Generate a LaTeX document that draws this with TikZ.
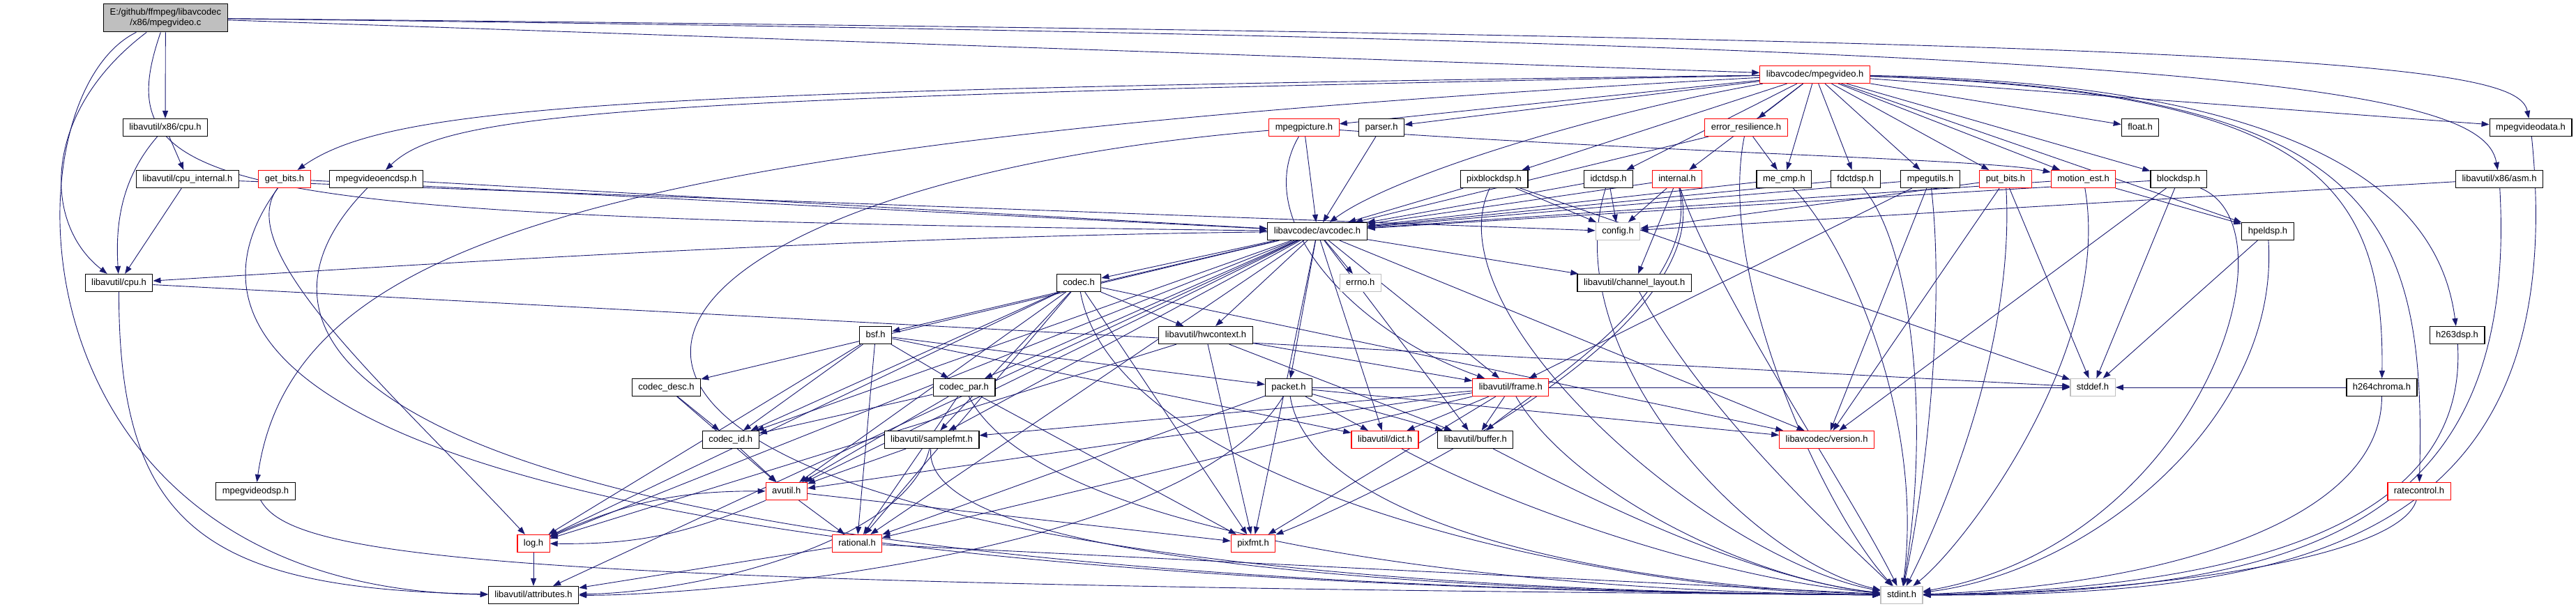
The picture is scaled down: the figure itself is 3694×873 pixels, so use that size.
\documentclass[tikz,border=0pt]{standalone}
\usepackage{fontspec}
\setmainfont{Liberation Sans}
\usetikzlibrary{arrows.meta,backgrounds}
\definecolor{edgeblue}{RGB}{25,25,112}
\definecolor{boxgray}{RGB}{191,191,191}

\begin{document}
\begin{tikzpicture}[x=1pt, y=-1pt,
    box/.style={draw=black, line width=1.2pt, fill=white, inner xsep=9pt, inner ysep=0pt,
        minimum height=25pt, font=\fontsize{13}{15}\selectfont},
    hdr/.style={box, text height=9.5pt, text depth=2.5pt},
    trunc/.style={hdr, draw=red},
    sys/.style={hdr, draw=boxgray},
    dep/.style={draw=edgeblue, line width=0.9pt, -{Triangle[length=11pt,width=8pt]}}]

    \useasboundingbox (0,0) rectangle (3694,873);

    % =========================================================================
    % Headers, one rank per row
    % =========================================================================
    \node[box, fill=boxgray, align=center, minimum height=40pt] (root) at (237.4,25.8) {E:/github/ffmpeg/libavcodec\\/x86/mpegvideo.c};
    \node[trunc] (mpv) at (2602.6,107) {libavcodec/mpegvideo.h};

    \node[hdr] (xcpu) at (237,183) {libavutil/x86/cpu.h};
    \node[trunc] (mpic) at (1870,183) {mpegpicture.h};
    \node[hdr] (parser) at (1981,183) {parser.h};
    \node[trunc] (er) at (2504,183) {error\_resilience.h};
    \node[hdr] (float) at (3069,183) {float.h};
    \node[hdr] (mvdata) at (3629,183) {mpegvideodata.h};

    \node[hdr] (cpuint) at (269,257) {libavutil/cpu\_internal.h};
    \node[trunc] (getbits) at (408,257) {get\_bits.h};
    \node[hdr] (mvenc) at (539.5,257) {mpegvideoencdsp.h};
    \node[hdr] (pixblk) at (2142.5,257) {pixblockdsp.h};
    \node[hdr] (idct) at (2306.6,257) {idctdsp.h};
    \node[trunc] (internal) at (2405,257) {internal.h};
    \node[hdr] (mecmp) at (2558.4,257) {me\_cmp.h};
    \node[hdr] (fdct) at (2660.8,257) {fdctdsp.h};
    \node[hdr] (mpu) at (2768,257) {mpegutils.h};
    \node[trunc] (putbits) at (2876,257) {put\_bits.h};
    \node[trunc] (motion) at (2987.5,257) {motion\_est.h};
    \node[hdr] (blockdsp) at (3124,257) {blockdsp.h};
    \node[hdr] (asm) at (3584,257) {libavutil/x86/asm.h};

    \node[hdr] (avcodec) at (1889,332) {libavcodec/avcodec.h};
    \node[sys] (config) at (2320,332) {config.h};
    \node[hdr] (hpel) at (3252,332) {hpeldsp.h};

    \node[hdr] (cpu) at (170.5,406) {libavutil/cpu.h};
    \node[hdr] (codec) at (1547,406) {codec.h};
    \node[sys] (errno) at (1950.8,406) {errno.h};
    \node[hdr] (chlayout) at (2343.7,406) {libavutil/channel\_layout.h};

    \node[hdr] (bsf) at (1255.6,481) {bsf.h};
    \node[hdr] (hwctx) at (1729,481) {libavutil/hwcontext.h};
    \node[hdr] (h263) at (3523.5,481) {h263dsp.h};

    \node[hdr] (cdesc) at (955.5,556) {codec\_desc.h};
    \node[hdr] (cpar) at (1382.5,556) {codec\_par.h};
    \node[hdr] (packet) at (1848,556) {packet.h};
    \node[trunc] (frame) at (2166.3,556) {libavutil/frame.h};
    \node[sys] (stddef) at (3001,556) {stddef.h};
    \node[hdr] (h264) at (3415.5,556) {h264chroma.h};

    \node[hdr] (cid) at (1047.7,631) {codec\_id.h};
    \node[hdr] (sfmt) at (1336,631) {libavutil/samplefmt.h};
    \node[trunc] (dict) at (1986,631) {libavutil/dict.h};
    \node[hdr] (buffer) at (2115.8,631) {libavutil/buffer.h};
    \node[trunc] (version) at (2619.6,631) {libavcodec/version.h};

    \node[hdr] (mvdsp) at (366.5,705) {mpegvideodsp.h};
    \node[trunc] (avutil) at (1127.8,705) {avutil.h};
    \node[trunc] (ratectl) at (3469,705) {ratecontrol.h};

    \node[trunc] (logh) at (765,780) {log.h};
    \node[trunc] (rational) at (1229,780) {rational.h};
    \node[trunc] (pixfmt) at (1797,780) {pixfmt.h};

    \node[hdr] (attr) at (765,854) {libavutil/attributes.h};
    \node[sys] (stdint) at (2727,854) {stdint.h};

    % =========================================================================
    % Include edges
    % =========================================================================
    \begin{scope}[on background layer]
        % short hops, drawn straight
        \foreach \a/\b in {root/xcpu, root/mpv, xcpu/cpuint, cpuint/cpu, cpuint/config,
            getbits/avcodec, mvenc/avcodec, mpv/mpic, mpv/parser, mpv/er, mpv/pixblk,
            mpv/idct, mpv/internal, mpv/mecmp, mpv/fdct, mpv/mpu, mpv/putbits, mpv/motion,
            mpv/blockdsp, mpv/float, mpv/mvdata, mpv/hpel, mpic/avcodec, parser/avcodec,
            er/avcodec, er/mecmp, pixblk/avcodec, pixblk/config, pixblk/stddef, idct/avcodec,
            idct/config, internal/avcodec, internal/config, internal/chlayout, mecmp/avcodec,
            fdct/avcodec, mpu/avcodec, mpu/frame, mpu/version, putbits/config, putbits/stddef,
            putbits/version, motion/avcodec, motion/hpel, blockdsp/avcodec, blockdsp/version,
            blockdsp/stddef, hpel/stddef, asm/config, h264/stddef, cpu/stddef} {
            \draw[dep] (\a) -- (\b);
        }
        \foreach \a/\b in {avcodec/errno, avcodec/chlayout, avcodec/codec, avcodec/bsf,
            avcodec/hwctx, avcodec/packet, avcodec/frame, avcodec/dict, avcodec/buffer,
            avcodec/version, avcodec/sfmt, avcodec/pixfmt, avcodec/cpar, avcodec/cdesc,
            avcodec/cid, avcodec/avutil, avcodec/logh, avcodec/rational, avcodec/attr,
            codec/hwctx, codec/cid, codec/sfmt, codec/avutil, codec/rational, codec/pixfmt,
            codec/version, codec/logh, bsf/cid, bsf/cpar, bsf/packet, bsf/dict, bsf/rational,
            bsf/logh, cdesc/cid, cdesc/avutil, cpar/cid, cpar/avutil, cpar/rational,
            cpar/pixfmt, cid/avutil, hwctx/frame, hwctx/buffer, hwctx/pixfmt, hwctx/logh,
            packet/dict, packet/buffer, packet/rational, packet/version, packet/stddef,
            frame/dict, frame/buffer, frame/sfmt, frame/avutil, frame/rational, frame/pixfmt,
            frame/stddef, sfmt/avutil, avutil/rational, avutil/pixfmt, logh/attr,
            rational/attr, rational/stdint} {
            \draw[dep] (\a) -- (\b);
        }

        % long runs from the source file
        \draw[dep] (root) .. controls (4,140) and (4,845) .. (attr);
        \draw[dep] (root) .. controls (60,160) and (60,320) .. (cpu);
        \draw[dep] (root) .. controls (150,280) and (300,312) .. (avcodec);
        \draw[dep] (root) .. controls (3300,55) and (3610,90) .. (mvdata);
        \draw[dep] (root) .. controls (3150,60) and (3560,120) .. (asm);
        \draw[dep] (xcpu) .. controls (170,260) and (166,330) .. (cpu);

        % libavcodec/mpegvideo.h fanning out
        \draw[dep] (mpv) .. controls (900,130) and (560,150) .. (getbits);
        \draw[dep] (mpv) .. controls (900,140) and (640,160) .. (mvenc);
        \draw[dep] (mpv) .. controls (900,200) and (420,330) .. (mvdsp);
        \draw[dep] (mpv) .. controls (2300,160) and (2000,250) .. (avcodec);
        \draw[dep] (mpv) .. controls (3300,130) and (3420,250) .. (h264);
        \draw[dep] (mpv) .. controls (3350,120) and (3500,300) .. (h263);
        \draw[dep] (mpv) .. controls (3400,130) and (3480,300) .. (ratectl);

        \draw[dep] (getbits) .. controls (330,360) and (560,560) .. (logh);
        \draw[dep] (getbits) .. controls (230,500) and (420,840) .. (stdint);
        \draw[dep] (mvenc) .. controls (300,500) and (500,840) .. (stdint);
        \draw[dep] (mvdsp) .. controls (420,800) and (700,840) .. (stdint);

        \draw[dep] (mpic) .. controls (1790,320) and (1950,480) .. (frame);
        \draw[dep] (mpic) .. controls (2400,220) and (2850,228) .. (motion);
        \draw[dep] (mpic) .. controls (700,280) and (470,840) .. (stdint);

        \draw[dep] (er) .. controls (2460,400) and (2620,740) .. (stdint);
        \draw[dep] (pixblk) .. controls (2050,450) and (2450,800) .. (stdint);
        \draw[dep] (idct) .. controls (2230,500) and (2500,800) .. (stdint);
        \draw[dep] (internal) .. controls (2440,420) and (2200,560) .. (buffer);
        \draw[dep] (internal) .. controls (2470,480) and (1950,720) .. (pixfmt);
        \draw[dep] (internal) .. controls (2460,420) and (2650,700) .. (stdint);
        \draw[dep] (mecmp) .. controls (2650,350) and (2760,600) .. (stdint);
        \draw[dep] (fdct) .. controls (2740,350) and (2770,600) .. (stdint);
        \draw[dep] (mpu) .. controls (2790,450) and (2760,700) .. (stdint);
        \draw[dep] (putbits) .. controls (2890,500) and (2780,750) .. (stdint);
        \draw[dep] (motion) .. controls (3030,500) and (2820,780) .. (stdint);
        \draw[dep] (blockdsp) .. controls (3300,330) and (3150,780) .. (stdint);
        \draw[dep] (hpel) .. controls (3270,600) and (3000,820) .. (stdint);
        \draw[dep] (h264) .. controls (3415,750) and (3100,840) .. (stdint);
        \draw[dep] (h263) .. controls (3540,760) and (3200,845) .. (stdint);
        \draw[dep] (ratectl) .. controls (3440,800) and (3100,850) .. (stdint);
        \draw[dep] (asm) .. controls (3612,760) and (3300,850) .. (stdint);
        \draw[dep] (mvdata) .. controls (3690,780) and (3300,855) .. (stdint);

        % libavcodec / libavutil headers down to the system headers
        \draw[dep] (avcodec) .. controls (1200,340) and (600,380) .. (cpu);
        \draw[dep] (codec) .. controls (1600,700) and (2300,850) .. (stdint);
        \draw[dep] (cpar) .. controls (1500,780) and (2200,850) .. (stdint);
        \draw[dep] (packet) .. controls (1880,750) and (2300,840) .. (stdint);
        \draw[dep] (packet) .. controls (1700,800) and (1000,855) .. (attr);
        \draw[dep] (frame) .. controls (2250,700) and (2500,830) .. (stdint);
        \draw[dep] (sfmt) .. controls (1320,800) and (2000,850) .. (stdint);
        \draw[dep] (sfmt) .. controls (1300,780) and (1000,850) .. (attr);
        \draw[dep] (dict) .. controls (2150,720) and (2450,830) .. (stdint);
        \draw[dep] (buffer) .. controls (2250,700) and (2500,830) .. (stdint);
        \draw[dep] (chlayout) .. controls (2450,600) and (2650,780) .. (stdint);
        \draw[dep] (cpu) .. controls (170,760) and (300,845) .. (attr);
        \draw[dep] (logh) to[bend left=12] (avutil);
        \draw[dep] (avutil) to[bend left=12] (logh);
    \end{scope}

\end{tikzpicture}
\end{document}
